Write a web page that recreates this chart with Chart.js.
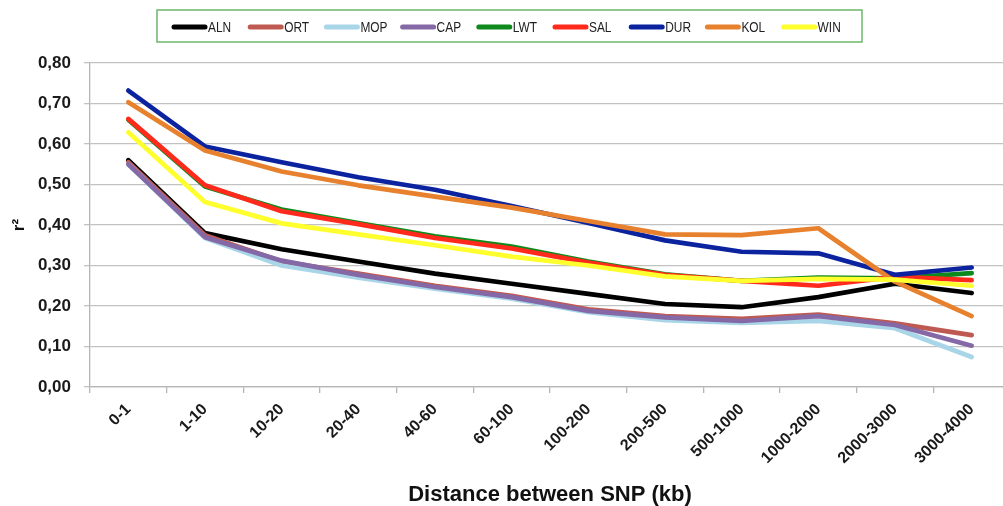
<!DOCTYPE html>
<html>
<head>
<meta charset="utf-8">
<script src="https://cdn.jsdelivr.net/npm/chart.js@4/dist/chart.umd.min.js"></script>
<style>
html,body{margin:0;padding:0;background:#fff;overflow:hidden;}
#wrap{width:1010px;height:506px;position:relative;}
</style>
</head>
<body>
<div id="wrap"><canvas id="c"></canvas></div>
<script>
const categories = ['0-1','1-10','10-20','20-40','40-60','60-100','100-200','200-500','500-1000','1000-2000','2000-3000','3000-4000'];
const yTickLabels = ['0,00','0,10','0,20','0,30','0,40','0,50','0,60','0,70','0,80'];
const seriesNames = ['ALN','ORT','MOP','CAP','LWT','SAL','DUR','KOL','WIN'];
const seriesColors = ['#000000','#bf5a52','#a8d6e8','#8568a6','#0e8a1c','#ff2a1c','#0b239e','#e8812e','#ffff2e'];
const ALN = [0.56, 0.38, 0.34, 0.31, 0.28, 0.255, 0.23, 0.205, 0.197, 0.222, 0.255, 0.232];
const ORT = [0.555, 0.375, 0.31, 0.28, 0.25, 0.225, 0.192, 0.175, 0.168, 0.179, 0.157, 0.128];
const MOP = [0.55, 0.368, 0.30, 0.27, 0.243, 0.218, 0.185, 0.165, 0.158, 0.163, 0.145, 0.074];
const CAP = [0.55, 0.37, 0.312, 0.277, 0.247, 0.222, 0.188, 0.172, 0.163, 0.175, 0.153, 0.102];
const LWT = [0.66, 0.495, 0.438, 0.405, 0.372, 0.347, 0.31, 0.278, 0.262, 0.27, 0.268, 0.281];
const SAL = [0.662, 0.498, 0.434, 0.402, 0.368, 0.342, 0.307, 0.277, 0.262, 0.25, 0.272, 0.264];
const DUR = [0.732, 0.594, 0.555, 0.518, 0.487, 0.447, 0.405, 0.362, 0.334, 0.33, 0.277, 0.295];
const KOL = [0.703, 0.584, 0.532, 0.498, 0.47, 0.443, 0.41, 0.377, 0.375, 0.392, 0.26, 0.175];
const WIN = [0.629, 0.457, 0.404, 0.377, 0.35, 0.322, 0.3, 0.273, 0.262, 0.267, 0.265, 0.25];
const seriesValues = [ALN, ORT, MOP, CAP, LWT, SAL, DUR, KOL, WIN];

const datasets = seriesNames.map((n, i) => ({
  label: n,
  data: seriesValues[i],
  borderColor: seriesColors[i],
  backgroundColor: seriesColors[i],
  borderWidth: 4.7,
  pointRadius: 0,
  tension: 0,
  fill: false,
  borderJoinStyle: 'round',
  borderCapStyle: 'round',
  order: -i
}));

const boxLegend = {
  id: 'boxLegend',
  afterDraw(chart) {
    const ctx = chart.ctx;
    ctx.save();
    ctx.strokeStyle = '#6cb86c';
    ctx.lineWidth = 1.5;
    ctx.strokeRect(157, 10, 705, 32);
    const y = 27;
    ctx.font = '14px "Liberation Sans", Arial, sans-serif';
    ctx.textBaseline = 'middle';
    ctx.textAlign = 'left';
    seriesNames.forEach((n, i) => {
      const x = 174 + 76.2 * i;
      ctx.strokeStyle = seriesColors[i];
      ctx.lineWidth = 5;
      ctx.lineCap = 'round';
      ctx.beginPath();
      ctx.moveTo(x, y);
      ctx.lineTo(x + 31, y);
      ctx.stroke();
      ctx.fillStyle = '#222';
      ctx.save();
      ctx.translate(x + 34, y + 1);
      ctx.scale(0.85, 1);
      ctx.fillText(n, 0, 0);
      ctx.restore();
    });
    ctx.restore();
  }
};

new Chart(document.getElementById('c'), {
  type: 'line',
  data: { labels: categories, datasets },
  plugins: [boxLegend],
  options: {
    responsive: true,
    maintainAspectRatio: false,
    animation: false,
    layout: { padding: { top: 63, left: 0, right: 0, bottom: 0 } },
    plugins: { legend: { display: false }, tooltip: { enabled: false } },
    scales: {
      x: {
        offset: true,
        afterFit(s) { s.height = 119; },
        grid: { offset: true, drawOnChartArea: false, drawTicks: true, tickLength: 6, color: '#b5b5b5', lineWidth: 1.3 },
        border: { color: '#b5b5b5', width: 1.3 },
        ticks: {
          autoSkip: false, minRotation: 45, maxRotation: 45, padding: 7,
          color: '#1a1a1a',
          font: { family: '"Liberation Sans", Arial, sans-serif', size: 16, weight: 'bold' }
        },
        title: {
          display: true, text: 'Distance between SNP (kb)', color: '#111',
          font: { family: '"Liberation Sans", Arial, sans-serif', size: 22, weight: 'bold', lineHeight: 1 },
          padding: { top: 0, bottom: 0 }
        }
      },
      y: {
        min: 0, max: 0.8,
        afterFit(s) { s.width = 90; },
        grid: { color: '#c2c2c2', lineWidth: 1.3, tickLength: 6 },
        border: { color: '#b5b5b5', width: 1.3 },
        ticks: {
          stepSize: 0.1, padding: 13, color: '#1a1a1a',
          font: { family: '"Liberation Sans", Arial, sans-serif', size: 17, weight: 'bold' },
          callback: (v, i) => yTickLabels[i]
        },
        title: {
          display: true, text: 'r²', color: '#111',
          font: { family: '"Liberation Sans", Arial, sans-serif', size: 17, weight: 'bold', lineHeight: 1.2 },
          padding: { top: 9, bottom: 0 }
        }
      }
    }
  }
});
</script>
</body>
</html>
